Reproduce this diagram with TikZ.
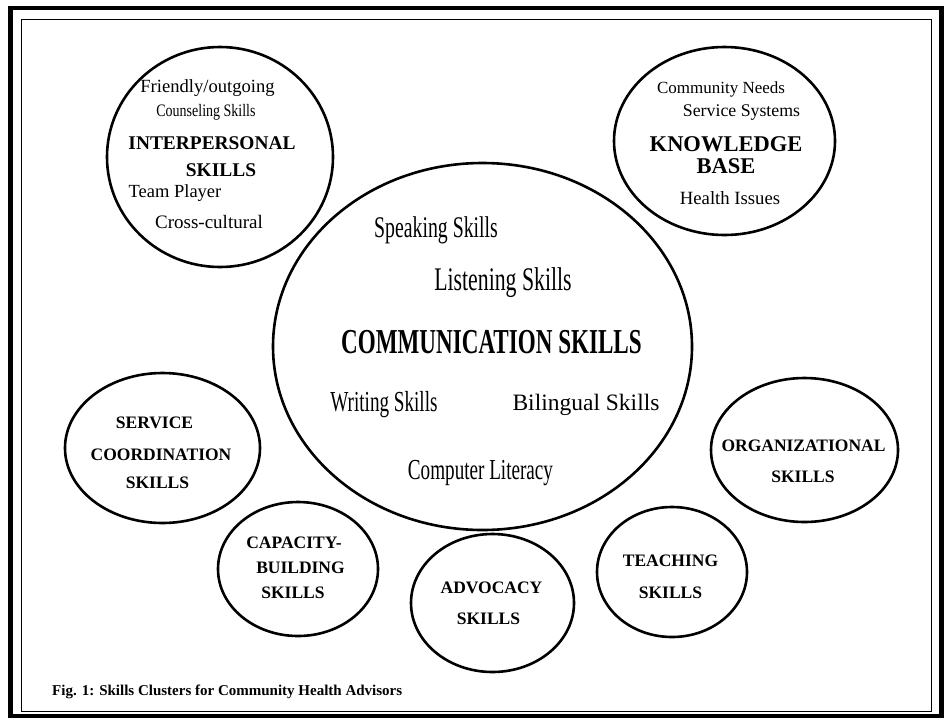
\documentclass[tikz,border=0pt]{standalone}
\usepackage{fontspec}
\setmainfont{Liberation Serif}
\newfontfamily\narrowfont[FakeStretch=0.66]{Liberation Serif}
\newfontfamily\semicondfont[FakeStretch=0.8]{Liberation Serif}
\usetikzlibrary{shapes.geometric}
\newcommand{\fsz}[1]{\fontsize{#1}{#1}\selectfont}

\tikzset{
  cluster/.style={draw, ellipse, line width=2.6pt, inner sep=0pt},
  item/.style={inner sep=0pt},
  head/.style={inner sep=0pt, font=\bfseries\fsz{17.5}},
}

\begin{document}
\begin{tikzpicture}[x=1pt,y=-1pt]
  \useasboundingbox[fill=white] (0,0) rectangle (944,718);
  % double frame
  \draw[line width=4.5pt] (10.5,8) rectangle (941.5,716);
  \draw[line width=1pt] (21,19) rectangle (931,711);

  % clusters: name/centre/half axes
  \foreach \n/\cx/\cy/\rx/\ry in {inter/220/157/113/110, know/724.5/141/110.5/94,
      comm/482.5/346.5/209.5/183.5, serv/162.5/448/97.5/75, capa/298/569/80/67,
      advo/492.5/603/81.5/69, teach/672/572/75/65, org/804.5/450/93.5/72}
    \node[cluster, minimum width=2*\rx, minimum height=2*\ry] (\n) at (\cx,\cy) {};

  % interpersonal
  \node[item, font=\fsz{18.6}] (friendly) at (207.5,88) {Friendly/outgoing};
  \node[item, font=\semicondfont\fsz{17.5}] (counsel) at (206,112) {Counseling Skills};
  \node[item, font=\bfseries\fsz{19.4}] (interp) at (212,143) {INTERPERSONAL};
  \node[item, font=\bfseries\fsz{19.4}] (interpsk) at (221,170) {SKILLS};
  \node[item, font=\fsz{18.5}] (team) at (175,193) {Team Player};
  \node[item, font=\fsz{19}] (cross) at (209,222) {Cross-cultural};

  % knowledge base
  \node[item, font=\fsz{17}] (needs) at (721,89) {Community Needs};
  \node[item, font=\fsz{17.8}] (systems) at (741.5,113) {Service Systems};
  \node[item, font=\bfseries\fsz{22.5}] (knowl) at (726,144) {KNOWLEDGE};
  \node[item, font=\bfseries\fsz{22.5}] (base) at (726,166) {BASE};
  \node[item, font=\fsz{18.7}] (health) at (730,198) {Health Issues};

  % communication
  \node[item, font=\narrowfont\fsz{30}] (speak) at (436,230) {Speaking Skills};
  \node[item, font=\narrowfont\fsz{33}] (listen) at (503,283) {Listening Skills};
  \node[item, font=\narrowfont\bfseries\fsz{35}] (commsk) at (491.5,342) {COMMUNICATION SKILLS};
  \node[item, font=\narrowfont\fsz{29}] (write) at (384,405) {Writing Skills};
  \node[item, font=\fsz{23.5}] (biling) at (586,405) {Bilingual Skills};
  \node[item, font=\narrowfont\fsz{29}] (computer) at (480.5,473) {Computer Literacy};

  % smaller clusters
  \foreach \nm/\x/\y/\t in {serv1/154.5/423/SERVICE, serv2/161/455/COORDINATION,
      serv3/157.5/483/SKILLS, capa1/294/543/CAPACITY-, capa2/300.5/568/BUILDING,
      capa3/293/593/SKILLS, advo1/491.5/588/ADVOCACY, advo2/488.5/619/SKILLS,
      teach1/670.5/561/TEACHING, teach2/670.5/593/SKILLS,
      org1/803.5/446/ORGANIZATIONAL, org2/803/477/SKILLS}
    \node[head] (\nm) at (\x,\y) {\t};

  \node[item, anchor=west, font=\bfseries\fsz{15}] (caption) at (52,692)
    {Fig. 1: Skills Clusters for Community Health Advisors};
\end{tikzpicture}
\end{document}
